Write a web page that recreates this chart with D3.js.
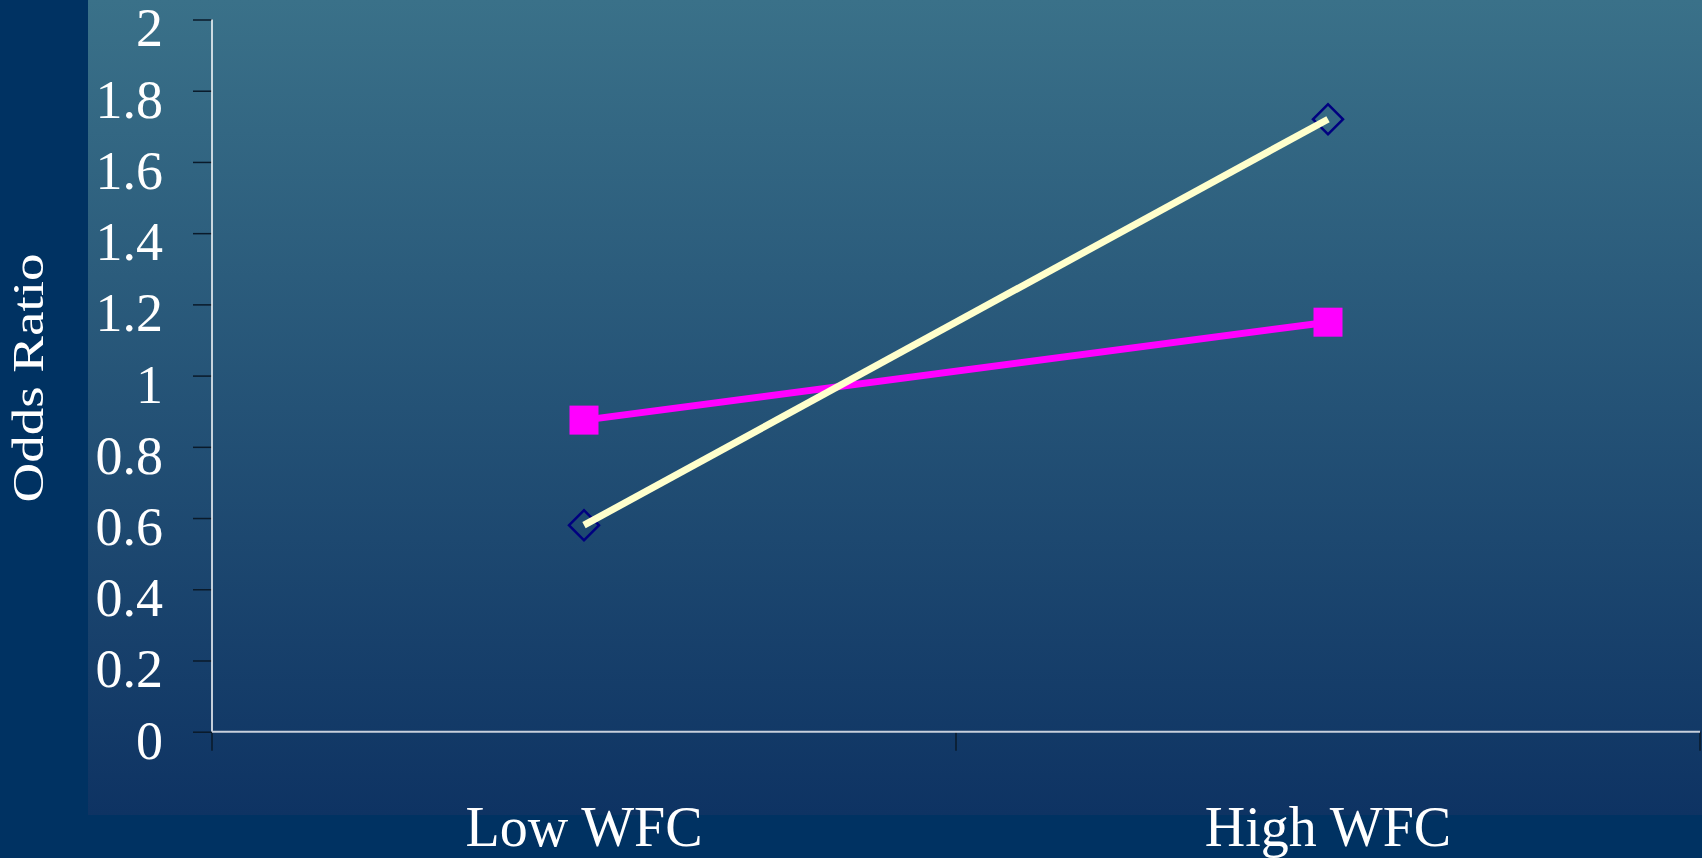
<!DOCTYPE html>
<html>
<head>
<meta charset="utf-8">
<script src="https://cdn.jsdelivr.net/npm/d3@7"></script>
<style>
  html, body { margin: 0; padding: 0; background: #003262; }
  svg { display: block; }
</style>
</head>
<body>
<svg id="chart" width="1702" height="858"></svg>
<script>
// Odds ratio by work-family conflict level, two groups
const categories = ["Low WFC", "High WFC"];
const seriesCream = [0.58, 1.72];
const seriesMagenta = [0.875, 1.15];
const yTicks = [0, 0.2, 0.4, 0.6, 0.8, 1, 1.2, 1.4, 1.6, 1.8, 2];

const W = 1702, H = 858;
const svg = d3.select("#chart");

// Background gradient panel
const defs = svg.append("defs");
const grad = defs.append("linearGradient")
  .attr("id", "panelGrad").attr("x1", 0).attr("y1", 0).attr("x2", 0).attr("y2", 1);
grad.append("stop").attr("offset", "0%").attr("stop-color", "#3a7189");
grad.append("stop").attr("offset", "100%").attr("stop-color", "#0e3363");

svg.append("rect").attr("x", 0).attr("y", 0).attr("width", W).attr("height", H).attr("fill", "#003262");
svg.append("rect").attr("x", 88).attr("y", 0).attr("width", W - 88).attr("height", 815).attr("fill", "url(#panelGrad)");

const plot = { left: 212, right: 1700, top: 19.5, bottom: 731.7 };

const x = d3.scaleBand().domain(categories).range([plot.left, plot.right]).padding(0);
const y = d3.scaleLinear().domain([0, 2]).range([plot.bottom, plot.top]);
const cx = d => x(d) + x.bandwidth() / 2;

const font = "'Liberation Serif', 'Times New Roman', serif";

// Y axis
const yAxis = d3.axisLeft(y).tickValues(yTicks).tickFormat(d3.format("")).tickSize(19).tickPadding(30);
const gy = svg.append("g").attr("transform", `translate(${plot.left},0)`).call(yAxis);
gy.select(".domain").remove();
gy.selectAll(".tick line").attr("stroke", "#0a1a2a").attr("stroke-width", 1.5);
gy.selectAll(".tick text")
  .attr("fill", "#ffffff").attr("font-family", font).attr("font-size", 54).attr("dy", "0.49em");
svg.append("line")
  .attr("x1", plot.left).attr("x2", plot.left).attr("y1", y(2)).attr("y2", y(0))
  .attr("stroke", "#ffffff").attr("stroke-width", 1.5);

// X axis
const xAxis = d3.axisBottom(x).tickSize(0).tickPadding(75);
const gx = svg.append("g").attr("transform", `translate(0,${plot.bottom})`).call(xAxis);
gx.select(".domain").remove();
gx.selectAll(".tick text")
  .attr("fill", "#ffffff").attr("font-family", font).attr("font-size", 56);
const edges = categories.map(c => x(c)).concat([x.range()[1]]);
gx.selectAll(".edge").data(edges).join("line").attr("class", "edge")
  .attr("x1", d => d).attr("x2", d => d).attr("y1", 0).attr("y2", 19)
  .attr("stroke", "#0a1a2a").attr("stroke-width", 1.5);
svg.append("line")
  .attr("x1", plot.left).attr("x2", plot.right).attr("y1", plot.bottom).attr("y2", plot.bottom)
  .attr("stroke", "#c8d0dc").attr("stroke-width", 2);

// Y axis title (glyphs condensed across the baseline)
svg.append("text")
  .attr("transform", `translate(43,378) rotate(-90) scale(1,0.8)`)
  .attr("text-anchor", "middle")
  .attr("fill", "#ffffff").attr("font-family", font).attr("font-size", 55)
  .text("Odds Ratio");

const line = d3.line().x((d, i) => cx(categories[i])).y(d => y(d));

// Magenta series: line with square markers
svg.append("path").datum(seriesMagenta).attr("d", line)
  .attr("fill", "none").attr("stroke", "#ff00ff").attr("stroke-width", 7);
svg.selectAll(".sq").data(seriesMagenta).join("rect").attr("class", "sq")
  .attr("x", (d, i) => cx(categories[i]) - 14.5).attr("y", d => y(d) - 14.5)
  .attr("width", 29).attr("height", 29).attr("fill", "#ff00ff");

// Cream series: hollow navy diamonds with line on top
const dia = d3.symbol().type(d3.symbolSquare).size(450);
svg.selectAll(".dia").data(seriesCream).join("path").attr("class", "dia")
  .attr("d", dia)
  .attr("transform", (d, i) => `translate(${cx(categories[i])},${y(d)}) rotate(45)`)
  .attr("fill", "none").attr("stroke", "#000080").attr("stroke-width", 2.5);
svg.append("path").datum(seriesCream).attr("d", line)
  .attr("fill", "none").attr("stroke", "#ffffcc").attr("stroke-width", 7);
</script>
</body>
</html>
